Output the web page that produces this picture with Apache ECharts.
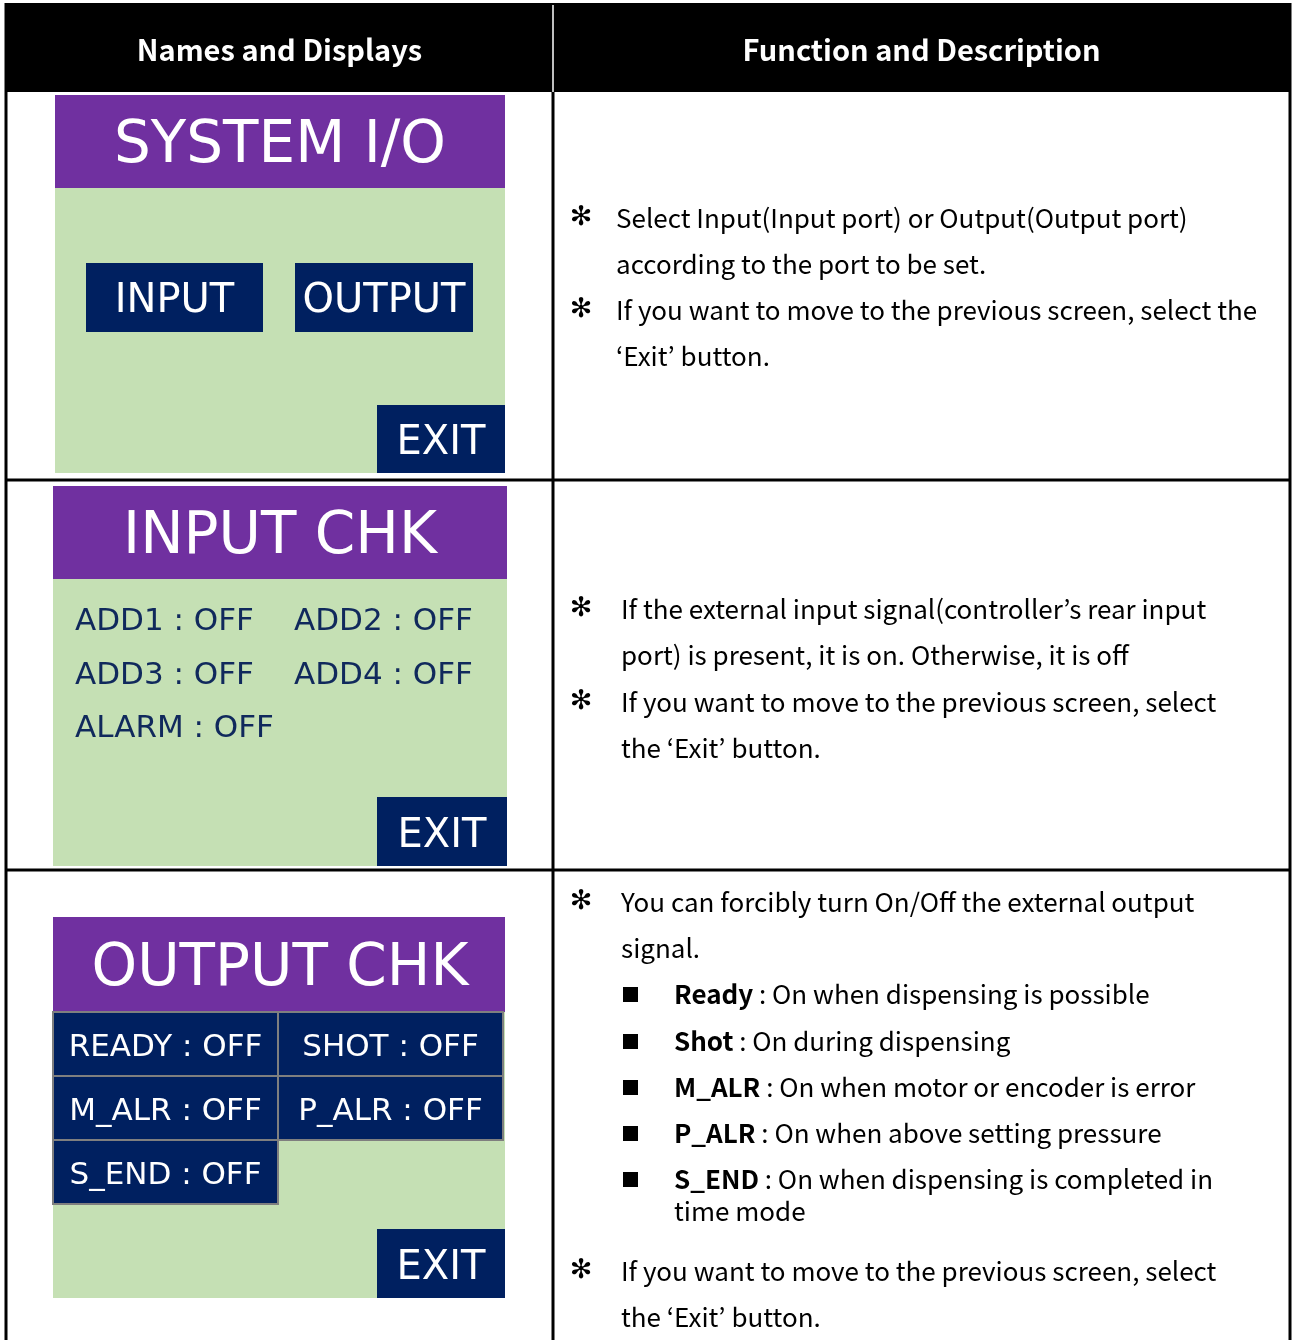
<!DOCTYPE html>
<html>
<head>
<meta charset="utf-8">
<script src="https://cdn.jsdelivr.net/npm/echarts@6/dist/echarts.min.js"></script>
<style>
html,body{margin:0;padding:0;background:#fff;}
#main{width:1292px;height:1340px;}
</style>
</head>
<body>
<div id="main"></div>
<script>
// ---------- content ----------
const headers = ['Names and Displays', 'Function and Description'];
const panelTitles = ['SYSTEM I/O', 'INPUT CHK', 'OUTPUT CHK'];
const systemButtons = ['INPUT', 'OUTPUT'];
const inputSignals = ['ADD1 : OFF', 'ADD2 : OFF', 'ADD3 : OFF', 'ADD4 : OFF', 'ALARM : OFF'];
const outputSignals = ['READY : OFF', 'SHOT : OFF', 'M_ALR : OFF', 'P_ALR : OFF', 'S_END : OFF'];
const exitLabel = 'EXIT';
const desc1 = [
  ['star', 'Select Input(Input port) or Output(Output port)'],
  ['cont', 'according to the port to be set.'],
  ['star', 'If you want to move to the previous screen, select the'],
  ['cont', '\u2018Exit\u2019 button.']
];
const desc2 = [
  ['star', 'If the external input signal(controller\u2019s rear input'],
  ['cont', 'port) is present, it is on. Otherwise, it is off'],
  ['star', 'If you want to move to the previous screen, select'],
  ['cont', 'the \u2018Exit\u2019 button.']
];
const desc3 = [
  ['star', 'You can forcibly turn On/Off the external output'],
  ['cont', 'signal.'],
  ['bullet', 'Ready', ' : On when dispensing is possible'],
  ['bullet', 'Shot', ' : On during dispensing'],
  ['bullet', 'M_ALR', ' : On when motor or encoder is error'],
  ['bullet', 'P_ALR', ' : On when above setting pressure'],
  ['bullet', 'S_END', ' : On when dispensing is completed in'],
  ['bcont', 'time mode'],
  ['star', 'If you want to move to the previous screen, select'],
  ['cont', 'the \u2018Exit\u2019 button.']
];

// ---------- layout ----------
const L = {
  left: 6, right: 1290, top: 3, headBottom: 92, colX: 553,
  rows: [92, 480, 870, 1345],
  descLineY: [[218, 264, 310, 356], [609, 655, 702, 748],
              [902, 948, 994, 1041, 1087, 1133, 1179, 1211, 1271, 1317]],
  descTextX: [616, 621, 621]
};
const C = { purple: '#7030A0', green: '#C5E0B4', navy: '#002060', grid: '#7F7F7F', ink: '#10295C' };
const panelFont = '"DejaVu Sans", Verdana, sans-serif';
const descFont = '"Noto Sans CJK KR", "Noto Sans", sans-serif';
const DY = 4; // baseline nudge for panel text

const els = [];
function rect(x, y, w, h, fill, stroke, lw) {
  els.push({ type: 'rect', shape: { x, y, width: w, height: h },
    style: { fill: fill || 'none', stroke: stroke || null, lineWidth: lw || 0 }, silent: true });
}
function line(x1, y1, x2, y2, color, w) {
  els.push({ type: 'line', shape: { x1, y1, x2, y2 }, style: { stroke: color, lineWidth: w }, silent: true });
}
function text(x, y, t, size, color, family, align, weight) {
  els.push({ type: 'text', x, y, silent: true,
    style: { text: t, fontSize: size, fontFamily: family, fontWeight: weight || 'normal',
      fill: color, align: align || 'left', verticalAlign: 'middle' } });
}

// header band
rect(L.left, L.top, L.right - L.left, L.headBottom - L.top, '#000');
text((L.left + L.colX) / 2, 50, headers[0], 29, '#fff', descFont, 'center', 'bold');
text((L.colX + L.right) / 2, 50, headers[1], 29, '#fff', descFont, 'center', 'bold');

// ---- panel 1: SYSTEM I/O ----
rect(55, 95, 450, 93, C.purple);
rect(55, 188, 450, 285, C.green);
text(280, 143 + DY, panelTitles[0], 58, '#fff', panelFont, 'center');
rect(86, 263, 177, 69, C.navy);
rect(295, 263, 178, 69, C.navy);
text(174.5, 298 + DY, systemButtons[0], 40, '#fff', panelFont, 'center');
text(384, 298 + DY, systemButtons[1], 40, '#fff', panelFont, 'center');
rect(377, 405, 128, 68, C.navy);
text(441, 440 + DY, exitLabel, 40, '#fff', panelFont, 'center');

// ---- panel 2: INPUT CHK ----
rect(53, 486, 454, 93, C.purple);
rect(53, 579, 454, 287, C.green);
text(280, 534 + DY, panelTitles[1], 58, '#fff', panelFont, 'center');
const inPos = [[75, 619], [294, 619], [75, 673], [294, 673], [75, 726]];
inputSignals.forEach((s, i) => text(inPos[i][0], inPos[i][1] + 3, s, 31, C.ink, panelFont, 'left'));
rect(377, 797, 130, 69, C.navy);
text(442, 833 + DY, exitLabel, 40, '#fff', panelFont, 'center');

// ---- panel 3: OUTPUT CHK ----
rect(53, 917, 452, 95, C.purple);
rect(53, 1012, 452, 286, C.green);
text(280, 966 + DY, panelTitles[2], 58, '#fff', panelFont, 'center');
const cellW = 225, cellH = 64;
outputSignals.forEach((s, i) => {
  const c = i % 2, r = Math.floor(i / 2);
  const x = 53 + c * cellW, y = 1012 + r * cellH;
  rect(x, y, cellW, cellH, C.navy, C.grid, 2);
  text(x + cellW / 2, y + cellH / 2 + 4, s, 31, '#fff', panelFont, 'center');
});
rect(377, 1229, 128, 69, C.navy);
text(441, 1265 + DY, exitLabel, 40, '#fff', panelFont, 'center');

// ---- descriptions ----
[desc1, desc2, desc3].forEach((d, ri) => {
  d.forEach((ln, li) => {
    const y = L.descLineY[ri][li];
    const tx = L.descTextX[ri];
    if (ln[0] === 'star') {
      text(581, y, '\u273B', 27, '#000', '"DejaVu Sans", sans-serif', 'center', 'bold');
      text(tx, y, ln[1], 26, '#000', descFont, 'left');
    } else if (ln[0] === 'cont') {
      text(tx, y, ln[1], 26, '#000', descFont, 'left');
    } else if (ln[0] === 'bullet') {
      rect(623, y - 7, 15, 15, '#000');
      els.push({ type: 'text', x: 674, y, silent: true,
        style: { text: '{b|' + ln[1] + '}{n|' + ln[2] + '}', align: 'left', verticalAlign: 'middle',
          fontSize: 26, fontFamily: descFont, fill: '#000',
          rich: { b: { fontSize: 26, fontFamily: descFont, fontWeight: 'bold', fill: '#000' },
                  n: { fontSize: 26, fontFamily: descFont, fontWeight: 'normal', fill: '#000' } } } });
    } else {
      text(674, y, ln[1], 26, '#000', descFont, 'left');
    }
  });
});

// ---- table rules ----
line(L.left, L.top, L.left, 1345, '#000', 3);
line(L.right, L.top, L.right, 1345, '#000', 3);
line(L.colX, L.headBottom, L.colX, 1345, '#000', 3);
line(L.colX, L.top + 2, L.colX, L.headBottom, '#fff', 1.5);
line(L.left, L.rows[1], L.right, L.rows[1], '#000', 3);
line(L.left, L.rows[2], L.right, L.rows[2], '#000', 3);

const chart = echarts.init(document.getElementById('main'), null, { renderer: 'canvas' });
chart.setOption({ animation: false, graphic: { elements: els } });
</script>
</body>
</html>
